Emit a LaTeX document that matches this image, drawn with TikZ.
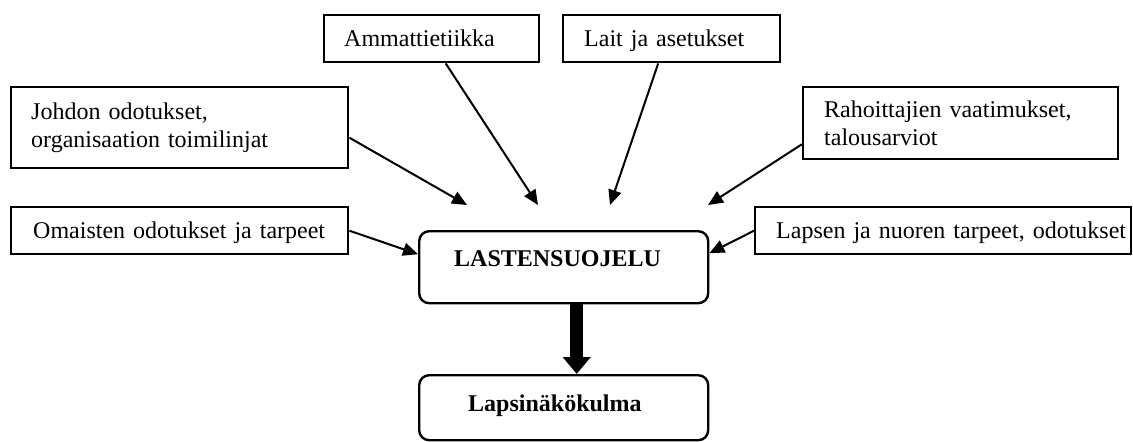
\documentclass[tikz,border=0pt]{standalone}
\usepackage{fontspec}
\setmainfont[WordSpace=0.7]{Liberation Serif}
\usetikzlibrary{arrows.meta}
\begin{document}
\begin{tikzpicture}[x=0.5pt,y=-0.5pt,
  every node/.style={font=\fontsize{12}{13.8}\selectfont},
  box/.style={draw,line width=1.2pt,anchor=north west,inner xsep=0pt,inner ysep=0pt,align=left},
  onel/.style={minimum height=23.5pt,text height=15.5pt,text depth=8pt},
  rbox/.style={box,rounded corners=5pt},
  thin/.style={line width=1pt,-{Triangle[length=7.5pt,width=6.5pt]}},
  thick/.style={line width=6.5pt,-{Triangle[length=8.5pt,width=13.5pt]}}]
\useasboundingbox (0,0) rectangle (1133,441);
% boxes
\node[box,onel,text width=107.5pt] (amm) at (323,14) {\hspace*{10pt}Ammattietiikka};
\node[box,onel,text width=108.5pt] (lait) at (562,14) {\hspace*{10.5pt}Lait ja asetukset};
\node[box,text width=168.5pt,minimum height=40.5pt] (joh) at (10,86) {\hspace*{10pt}Johdon odotukset,\\\hspace*{10pt}organisaation toimilinjat};
\node[box,text width=157.5pt,minimum height=36pt] (rah) at (802,86) {\hspace*{10.5pt}Rahoittajien vaatimukset,\\\hspace*{10.5pt}talousarviot};
\node[box,onel,text width=168.5pt] (oma) at (10,206) {\hspace*{11pt}Omaisten odotukset ja tarpeet};
\node[box,onel,text width=188pt] (lap) at (754,206) {\hspace*{10.5pt}Lapsen ja nuoren tarpeet, odotukset};
\node[rbox,text width=144.5pt,text height=17.5pt,text depth=18.5pt] (las) at (418,230) {\hspace*{17.5pt}\bfseries LASTENSUOJELU};
\node[rbox,text width=144.5pt,text height=18pt,text depth=14.5pt] (lnk) at (418,374) {\hspace*{24.5pt}\bfseries Lapsinäkökulma};
% arrow tips above the central box
\coordinate (t1) at (467,205);
\coordinate (t2) at (538,205);
\coordinate (t3) at (610,205);
\coordinate (t4) at (708,205);
% connectors
\draw[thin] ([yshift=-5pt]joh.east) -- (t1);
\draw[thin] ([xshift=7pt]amm.south) -- (t2);
\draw[thin] ([xshift=-6.75pt]lait.south) -- (t3);
\draw[thin] ([yshift=-10.5pt]rah.west) -- (t4);
\draw[thin] (oma.east) -- ([yshift=6.5pt]las.west);
\draw[thin] (lap.west) -- ([yshift=7pt]las.east);
\draw[thick] ([xshift=6.5pt]las.south) -- ([xshift=6.5pt]lnk.north);
\end{tikzpicture}
\end{document}
